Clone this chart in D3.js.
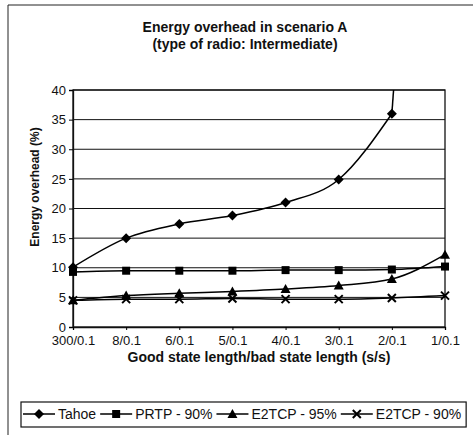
<!DOCTYPE html>
<html>
<head>
<meta charset="utf-8">
<script src="https://cdn.jsdelivr.net/npm/d3@7"></script>
<style>
  body { margin: 0; background: #fff; }
  svg { display: block; font-family: 'Liberation Sans', Arial, sans-serif; }
</style>
</head>
<body>
<svg id="chart" width="473" height="435"></svg>
<script>
// data
const categories = ['300/0.1', '8/0.1', '6/0.1', '5/0.1', '4/0.1', '3/0.1', '2/0.1', '1/0.1'];
const tahoe = [10.1, 15.0, 17.4, 18.8, 21.0, 24.9, 36.0, 160];
const prtp90 = [9.3, 9.5, 9.5, 9.5, 9.6, 9.6, 9.7, 10.2];
const e2tcp95 = [4.5, 5.3, 5.7, 6.0, 6.4, 7.0, 8.1, 12.2];
const e2tcp90 = [4.5, 4.7, 4.7, 4.8, 4.7, 4.7, 4.9, 5.3];
const yTicks = [0, 5, 10, 15, 20, 25, 30, 35, 40];

const series = [
  { name: 'Tahoe', values: tahoe, marker: 'diamond' },
  { name: 'PRTP - 90%', values: prtp90, marker: 'square' },
  { name: 'E2TCP - 95%', values: e2tcp95, marker: 'triangle' },
  { name: 'E2TCP - 90%', values: e2tcp90, marker: 'cross' }
];

const svg = d3.select('#chart');
const margin = { top: 90, right: 28, bottom: 108, left: 73 };
const width = 473 - margin.left - margin.right;
const height = 435 - margin.top - margin.bottom;

// outer frame (only top and left edges show in the scan)
svg.append('path')
  .attr('d', 'M8,435 V5 H473')
  .attr('fill', 'none')
  .attr('stroke', '#222')
  .attr('stroke-width', 1);

// title
const title = svg.append('text')
  .attr('text-anchor', 'middle')
  .attr('font-size', '14px')
  .attr('font-weight', 'bold')
  .attr('fill', '#111');
title.append('tspan').attr('x', 245).attr('y', 32).text('Energy overhead in scenario A');
title.append('tspan').attr('x', 245).attr('y', 49).text('(type of radio: Intermediate)');

const g = svg.append('g')
  .attr('transform', 'translate(' + margin.left + ',' + margin.top + ')');

const x = d3.scalePoint()
  .domain(categories)
  .range([0, width]);

const y = d3.scaleLinear()
  .domain([0, 40])
  .range([height, 0]);

// gridlines
g.append('g')
  .selectAll('line')
  .data(yTicks.filter(d => d > 0))
  .join('line')
  .attr('x1', 0)
  .attr('x2', width)
  .attr('y1', d => y(d))
  .attr('y2', d => y(d))
  .attr('stroke', '#111')
  .attr('stroke-width', 1);

// plot border
g.append('rect')
  .attr('width', width)
  .attr('height', height)
  .attr('fill', 'none')
  .attr('stroke', '#111')
  .attr('stroke-width', 1.3);

// axes
const yAxis = g.append('g')
  .call(d3.axisLeft(y).tickValues(yTicks).tickSize(4).tickPadding(3))
  .style('font-family', "'Liberation Sans', Arial, sans-serif")
  .style('font-size', '13px');
yAxis.select('.domain').attr('stroke', '#111').attr('stroke-width', 1.3);
yAxis.selectAll('text').attr('fill', '#111');

const xAxis = g.append('g')
  .attr('transform', 'translate(0,' + height + ')')
  .call(d3.axisBottom(x).tickSize(3).tickPadding(6))
  .style('font-family', "'Liberation Sans', Arial, sans-serif")
  .style('font-size', '13px');
xAxis.select('.domain').attr('stroke', '#111').attr('stroke-width', 1.3);
xAxis.selectAll('text').attr('fill', '#111');

// axis titles
svg.append('text')
  .attr('x', margin.left + width / 2)
  .attr('y', 362)
  .attr('text-anchor', 'middle')
  .attr('font-size', '14px')
  .attr('font-weight', 'bold')
  .attr('fill', '#111')
  .text('Good state length/bad state length (s/s)');

svg.append('text')
  .attr('transform', 'translate(39,187) rotate(-90)')
  .attr('text-anchor', 'middle')
  .attr('font-size', '12px')
  .attr('font-weight', 'bold')
  .attr('fill', '#111')
  .text('Energy overhead (%)');

// clip lines to plot area
svg.append('clipPath').attr('id', 'clip')
  .append('rect').attr('x', -1).attr('y', 0).attr('width', width + 2).attr('height', height);

const smooth = d3.line()
  .x(d => x(d.cat))
  .y(d => y(d.v))
  .curve(d3.curveMonotoneX);
const straight = d3.line()
  .x(d => x(d.cat))
  .y(d => y(d.v));

function drawMarker(sel, type) {
  const s = 4;
  if (type === 'diamond') {
    sel.append('path').attr('d', `M0,${-s - 1}L${s + 1},0L0,${s + 1}L${-s - 1},0Z`).attr('fill', '#000');
  } else if (type === 'square') {
    sel.append('rect').attr('x', -s).attr('y', -s).attr('width', 2 * s).attr('height', 2 * s).attr('fill', '#000');
  } else if (type === 'triangle') {
    sel.append('path').attr('d', `M0,${-s - 1}L${s + 1},${s}L${-s - 1},${s}Z`).attr('fill', '#000');
  } else {
    sel.append('path').attr('d', `M${-s},${-s}L${s},${s}M${-s},${s}L${s},${-s}`)
      .attr('stroke', '#000').attr('stroke-width', 2).attr('fill', 'none');
  }
}

series.forEach(s => {
  const pts = s.values.map((v, i) => ({ cat: categories[i], v: v }));
  // smooth through the on-chart points, then run straight off the top
  let k = pts.findIndex(p => p.v > 40);
  if (k < 0) k = pts.length;
  const inside = pts.slice(0, k);
  const outside = pts.slice(k - 1);

  g.append('path')
    .datum(inside)
    .attr('clip-path', 'url(#clip)')
    .attr('fill', 'none')
    .attr('stroke', '#000')
    .attr('stroke-width', 1.5)
    .attr('d', smooth);

  if (outside.length > 1) {
    g.append('path')
      .datum(outside)
      .attr('clip-path', 'url(#clip)')
      .attr('fill', 'none')
      .attr('stroke', '#000')
      .attr('stroke-width', 1.5)
      .attr('d', straight);
  }

  g.append('g')
    .selectAll('g')
    .data(inside)
    .join('g')
    .attr('transform', d => 'translate(' + x(d.cat) + ',' + y(d.v) + ')')
    .each(function () { drawMarker(d3.select(this), s.marker); });
});

// legend
const legend = svg.append('g');
const legendBox = legend.append('rect')
  .attr('fill', '#fff')
  .attr('stroke', '#111')
  .attr('stroke-width', 1.2);
let lx = 23;
const ly = 414;
series.forEach(s => {
  legend.append('line')
    .attr('x1', lx).attr('x2', lx + 32)
    .attr('y1', ly).attr('y2', ly)
    .attr('stroke', '#000').attr('stroke-width', 1.5);
  drawMarker(legend.append('g').attr('transform', 'translate(' + (lx + 16) + ',' + ly + ')'), s.marker);
  const t = legend.append('text')
    .attr('x', lx + 35)
    .attr('y', ly + 5)
    .attr('font-size', '14px')
    .attr('fill', '#111')
    .text(s.name);
  lx += 35 + t.node().getComputedTextLength() + 4;
});
legendBox.attr('x', 21).attr('y', 402).attr('width', lx - 21 + 1).attr('height', 25);
</script>
</body>
</html>
